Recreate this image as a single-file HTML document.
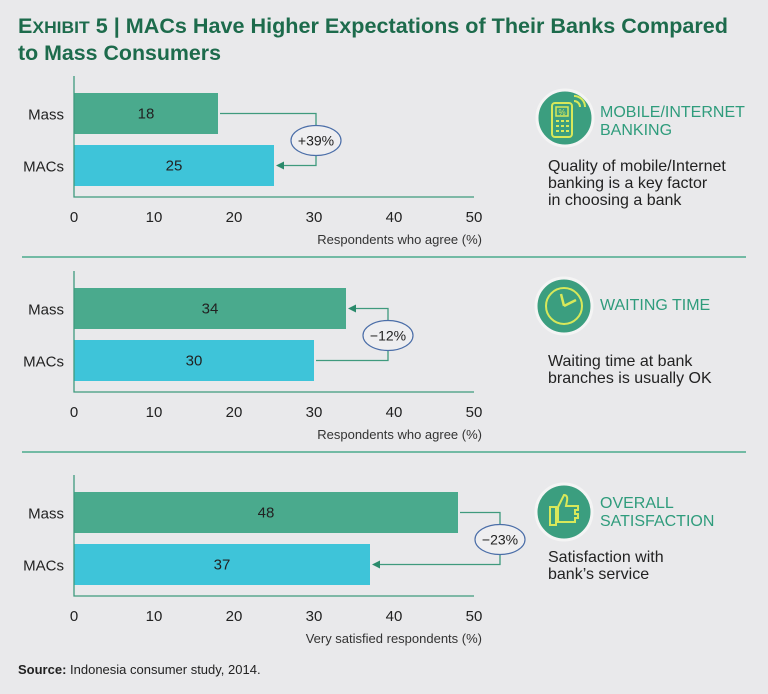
<!DOCTYPE html>
<html><head><meta charset="utf-8"><style>
html,body{margin:0;padding:0;background:#e9e9eb;}
svg{display:block;font-family:"Liberation Sans",sans-serif;}
</style></head><body>
<svg id="c" width="768" height="694" viewBox="0 0 768 694">
<rect width="768" height="694" fill="#e9e9eb"/>
<text x="18" y="33" font-size="21" font-weight="bold" fill="#1d6b4c" textLength="710" lengthAdjust="spacingAndGlyphs">E<tspan font-size="17">XHIBIT</tspan> 5 | MACs Have Higher Expectations of Their Banks Compared</text>
<text x="18" y="60" font-size="21" font-weight="bold" fill="#1d6b4c" textLength="203" lengthAdjust="spacingAndGlyphs">to Mass Consumers</text>
<g id="panels"></g>
<g>
<circle cx="565" cy="118" r="28" fill="#3b9e7f" stroke="#f4f4f4" stroke-width="3"/>
<rect x="552" y="103" width="20" height="34" rx="3" fill="none" stroke="#d8e85a" stroke-width="2"/>
<rect x="556" y="107" width="12" height="9" fill="none" stroke="#d8e85a" stroke-width="1.5"/>
<text x="562" y="115" font-size="8" fill="#d8e85a" text-anchor="middle">%</text>
<g fill="#d8e85a"><rect x="556" y="120" width="3" height="2"/><rect x="561" y="120" width="3" height="2"/><rect x="566" y="120" width="3" height="2"/><rect x="556" y="125" width="3" height="2"/><rect x="561" y="125" width="3" height="2"/><rect x="566" y="125" width="3" height="2"/><rect x="556" y="130" width="3" height="2"/><rect x="561" y="130" width="3" height="2"/><rect x="566" y="130" width="3" height="2"/></g>
<path d="M574 101 a6 6 0 0 1 6 6 M574 96 a11 11 0 0 1 11 11" fill="none" stroke="#d8e85a" stroke-width="2"/>
</g>
<g>
<circle cx="564" cy="306" r="28" fill="#3b9e7f" stroke="#f4f4f4" stroke-width="3"/>
<circle cx="564" cy="306" r="18" fill="none" stroke="#d8e85a" stroke-width="2"/>
<path d="M564 306 L561 294 M564 306 L576 300" stroke="#d8e85a" stroke-width="2.5" fill="none"/>
</g>
<g>
<circle cx="564" cy="512" r="28" fill="#3b9e7f" stroke="#f4f4f4" stroke-width="3"/>
<path d="M550 507 h6 v18 h-6z M558 507 l6 -12 q4 0 3 6 l-1 5 h12 v4 h-3 v4 h3 v4 h-3 v4 h-17z" fill="none" stroke="#d8e85a" stroke-width="2"/>
</g>
<g font-size="16" fill="#2f9c7c">
<text x="600" y="117">MOBILE/INTERNET</text>
<text x="600" y="135">BANKING</text>
<text x="600" y="310">WAITING TIME</text>
<text x="600" y="508">OVERALL</text>
<text x="600" y="526">SATISFACTION</text>
</g>
<g font-size="16" fill="#222">
<text x="548" y="171">Quality of mobile/Internet</text>
<text x="548" y="188">banking is a key factor</text>
<text x="548" y="205">in choosing a bank</text>
<text x="548" y="366">Waiting time at bank</text>
<text x="548" y="383">branches is usually OK</text>
<text x="548" y="562">Satisfaction with</text>
<text x="548" y="579">bank’s service</text>
</g>
<text x="18" y="674" font-size="13" fill="#222"><tspan font-weight="bold">Source:</tspan> Indonesia consumer study, 2014.</text>
</svg>
<script>
const massValues = [18, 34, 48];
const macsValues = [25, 30, 37];
const changeLabels = ["+39%", "\u221212%", "\u221223%"];
const axisTitles = ["Respondents who agree (%)", "Respondents who agree (%)", "Very satisfied respondents (%)"];
const ticks = [0, 10, 20, 30, 40, 50];
const categories = ["Mass", "MACs"];

const NS = "http://www.w3.org/2000/svg";
const x0 = 74, x1 = 474, xMax = 50;
function xs(v){ return x0 + (x1 - x0) * v / xMax; }
const panelTops = [93, 288, 492];
const g = document.getElementById('panels');
function mk(tag, attrs, parent){ const e = document.createElementNS(NS, tag); for (const k in attrs) e.setAttribute(k, attrs[k]); (parent||g).appendChild(e); return e; }

panelTops.forEach((top, i) => {
  const pg = mk('g', {});
  
  
  const bh = 41, gap = 11;
  const vals = [massValues[i], macsValues[i]];
  const cols = ["#4aaa8d", "#3ec4d9"];
  vals.forEach((v, j) => {
    const y = top + j*(bh+gap);
    const r = mk('rect', {x: x0, y: y, width: xs(v)-x0, height: bh, fill: cols[j]}, pg);
    
    
    const t = mk('text', {x: (x0+xs(v))/2, y: y+bh/2+5, 'font-size': 15, 'text-anchor': 'middle', fill: '#222'}, pg);
    t.textContent = v;
    
    
    const c = mk('text', {x: 64, y: y+bh/2+6, 'font-size': 15, 'text-anchor': 'end', fill: '#222'}, pg);
    c.textContent = categories[j];
    
    
  });
  const axB = top + 2*bh + gap + 11;
  const ax = mk('path', {d: `M${x0} ${top-17} V${axB} H${x1}`, stroke: '#3f9a7d', 'stroke-width': 1.3, fill: 'none'}, pg);
  
  
  ticks.forEach(tv => {
    const t = mk('text', {x: xs(tv), y: axB+25, 'font-size': 15, 'text-anchor': 'middle', fill: '#222'}, pg);
    t.textContent = tv;
    
    
  });
  const at = mk('text', {x: x1+8, y: axB+47, 'font-size': 13, 'text-anchor': 'end', fill: '#333'}, pg);
  at.textContent = axisTitles[i];
  
  
  const yM = top + bh/2, yC = top + bh + gap + bh/2;
  const xe = Math.max(xs(vals[0]), xs(vals[1])) + 42;
  let d, ax2, ay;
  if (i === 1) { d = `M${xs(vals[1])+2} ${yC} H${xe} V${yM} H${xs(vals[0])+8}`; ax2 = xs(vals[0])+2; ay = yM; }
  else { d = `M${xs(vals[0])+2} ${yM} H${xe} V${yC} H${xs(vals[1])+8}`; ax2 = xs(vals[1])+2; ay = yC; }
  const cn = mk('path', {d: d, stroke: '#3f9a7d', 'stroke-width': 1.3, fill: 'none'}, pg);
  
  
  const ar = mk('path', {d: `M${ax2} ${ay} l8 -4 v8z`, fill: '#2a8a6b'}, pg);
  
  
  const cy = (yM+yC)/2 + 1;
  const el = mk('ellipse', {cx: xe, cy: cy, rx: 25, ry: 15, fill: '#eeeef0', stroke: '#4b6ea8', 'stroke-width': 1.2}, pg);
  
  
  const lt = mk('text', {x: xe, y: cy+5, 'font-size': 14, 'text-anchor': 'middle', fill: '#222'}, pg);
  lt.textContent = changeLabels[i];
  
  
  if (i < 2) {
    const sep = mk('line', {x1: 22, x2: 746, y1: axB+60, y2: axB+60, stroke: '#4aaa8d', 'stroke-width': 1.5}, pg);
    
    
  }
});
</script>
</body></html>
